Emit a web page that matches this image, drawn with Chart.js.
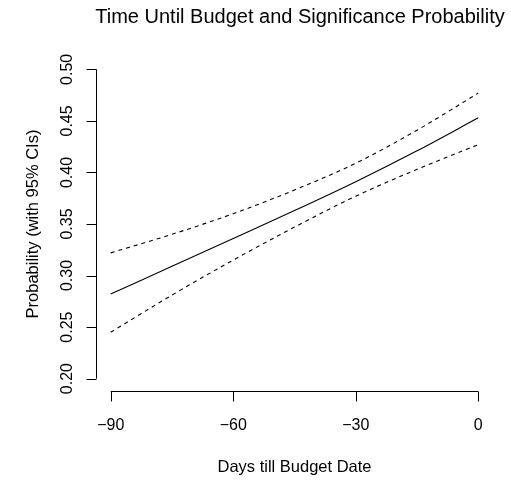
<!DOCTYPE html>
<html>
<head>
<meta charset="utf-8">
<script src="https://cdn.jsdelivr.net/npm/chart.js@4/dist/chart.umd.min.js"></script>
<style>
html,body{margin:0;padding:0;background:#fff;}
#wrap{width:511px;height:480px;position:relative;}
</style>
</head>
<body>
<div id="wrap"><canvas id="c" width="511" height="480"></canvas></div>
<script>
const days = [-90, -75, -60, -45, -30, -15, 0];
const prob = [0.282, 0.309, 0.336, 0.363, 0.391, 0.421, 0.453];
const upperCI = [0.322, 0.340, 0.360, 0.383, 0.409, 0.441, 0.477];
const lowerCI = [0.245, 0.281, 0.315, 0.347, 0.377, 0.403, 0.427];
const xTicks = [-90, -60, -30, 0];
const xTickLabels = ['\u221290', '\u221260', '\u221230', '0'];
const yTicks = [0.20, 0.25, 0.30, 0.35, 0.40, 0.45, 0.50];
const yTickLabels = ['0.20', '0.25', '0.30', '0.35', '0.40', '0.45', '0.50'];
const titleText = 'Time Until Budget and Significance Probability';
const xTitle = 'Days till Budget Date';
const yTitle = 'Probability (with 95% CIs)';

const toPts = arr => days.map((d, i) => ({x: d, y: arr[i]}));
const FONT = '"Liberation Sans", Arial, Helvetica, sans-serif';

const rAxes = {
  id: 'rAxes',
  afterDraw(chart) {
    const ctx = chart.ctx;
    const xs = chart.scales.x, ys = chart.scales.y;
    const area = chart.chartArea;
    ctx.save();
    ctx.strokeStyle = '#000';
    ctx.fillStyle = '#000';
    ctx.lineWidth = 1;
    // x axis
    const yAx = Math.round(area.bottom) + 0.5;
    const x0 = xs.getPixelForValue(xTicks[0]), x1 = xs.getPixelForValue(xTicks[xTicks.length - 1]);
    ctx.beginPath();
    ctx.moveTo(x0, yAx); ctx.lineTo(x1, yAx);
    xTicks.forEach(t => { const px = Math.round(xs.getPixelForValue(t)) + 0.5; ctx.moveTo(px, yAx); ctx.lineTo(px, yAx + 10); });
    ctx.stroke();
    ctx.font = '16px ' + FONT;
    ctx.textAlign = 'center';
    ctx.textBaseline = 'alphabetic';
    xTicks.forEach((t, i) => ctx.fillText(xTickLabels[i], xs.getPixelForValue(t), 430));
    ctx.font = '16.5px ' + FONT;
    ctx.fillText(xTitle, (area.left + area.right) / 2, 472);
    // y axis
    const xAx = Math.round(area.left) + 0.5;
    const ya = ys.getPixelForValue(yTicks[0]), yb = ys.getPixelForValue(yTicks[yTicks.length - 1]);
    ctx.beginPath();
    ctx.moveTo(xAx, ya); ctx.lineTo(xAx, yb);
    yTicks.forEach(t => { const py = Math.round(ys.getPixelForValue(t)) + 0.5; ctx.moveTo(xAx, py); ctx.lineTo(xAx - 10, py); });
    ctx.stroke();
    ctx.font = '16px ' + FONT;
    yTicks.forEach((t, i) => {
      ctx.save();
      ctx.translate(72, ys.getPixelForValue(t));
      ctx.rotate(-Math.PI / 2);
      ctx.textAlign = 'center';
      ctx.fillText(yTickLabels[i], 0, 0);
      ctx.restore();
    });
    ctx.save();
    ctx.font = '16.5px ' + FONT;
    ctx.translate(38, (area.top + area.bottom) / 2);
    ctx.rotate(-Math.PI / 2);
    ctx.textAlign = 'center';
    ctx.fillText(yTitle, 0, 0);
    ctx.restore();
    // title
    ctx.font = '20px ' + FONT;
    ctx.textAlign = 'center';
    ctx.fillText(titleText, 300, 23);
    ctx.restore();
  }
};

new Chart(document.getElementById('c'), {
  type: 'line',
  data: {
    datasets: [
      {label: 'Probability', data: toPts(prob), borderColor: '#000', borderWidth: 1.1, pointRadius: 0, fill: false, cubicInterpolationMode: 'monotone'},
      {label: 'Upper 95% CI', data: toPts(upperCI), borderColor: '#000', borderWidth: 1.1, borderDash: [4, 4], pointRadius: 0, fill: false, cubicInterpolationMode: 'monotone'},
      {label: 'Lower 95% CI', data: toPts(lowerCI), borderColor: '#000', borderWidth: 1.1, borderDash: [4, 4], pointRadius: 0, fill: false, cubicInterpolationMode: 'monotone'}
    ]
  },
  options: {
    responsive: false,
    animation: false,
    layout: {padding: {left: 96, right: 18, top: 57, bottom: 89}},
    plugins: {legend: {display: false}, title: {display: false}, tooltip: {enabled: false}},
    scales: {
      x: {type: 'linear', min: -93.6, max: 3.6, display: false},
      y: {type: 'linear', min: 0.188, max: 0.512, display: false}
    }
  },
  plugins: [rAxes]
});
</script>
</body>
</html>
